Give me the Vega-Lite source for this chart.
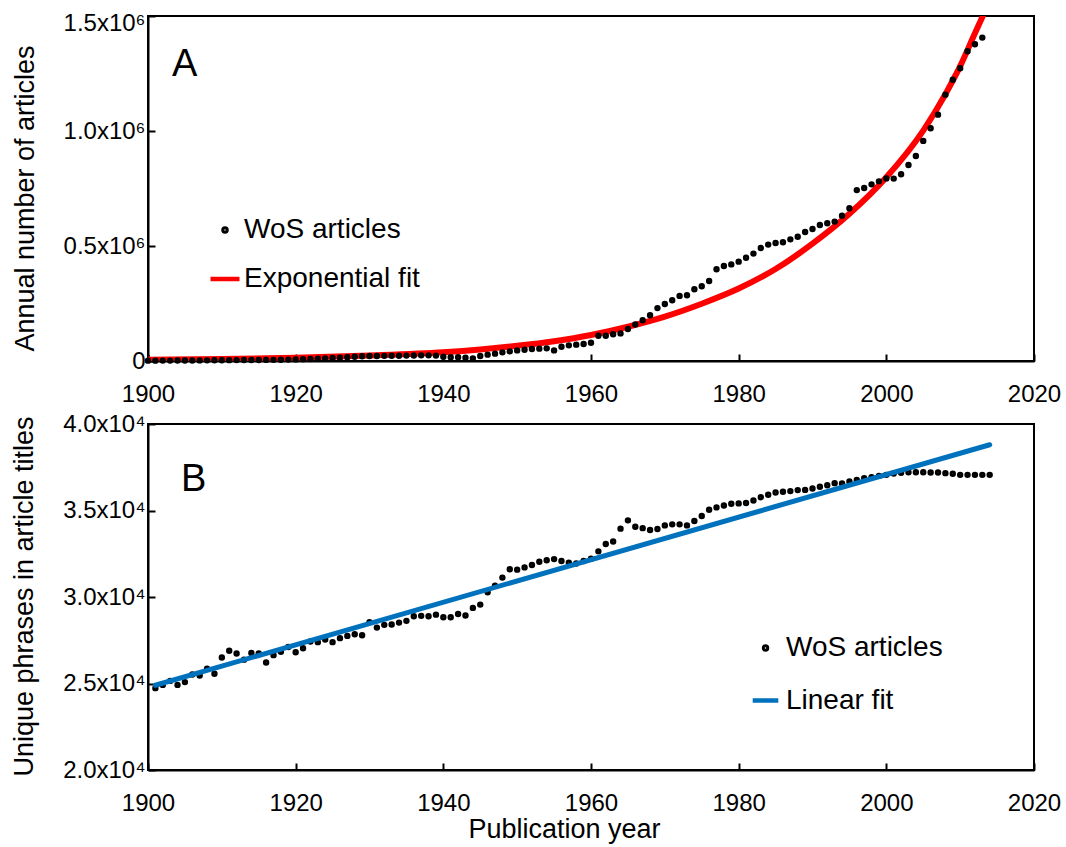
{
  "$schema": "https://vega.github.io/schema/vega-lite/v6.json",
  "autosize": {"type": "none"},
  "padding": {"left": 148, "top": 16, "right": 32, "bottom": 831},
  "background": "white",
  "spacing": 63,
  "bounds": "flush",
  "resolve": {"scale": {"color": "independent", "shape": "independent", "size": "independent"}, "legend": {"color": "independent", "shape": "independent", "size": "independent"}},
  "datasets": {
    "a": [
      {"year":1900,"value":1500,"series":"WoS articles"},{"year":1901,"value":1600,"series":"WoS articles"},{"year":1902,"value":1700,"series":"WoS articles"},{"year":1903,"value":1800,"series":"WoS articles"},{"year":1904,"value":2000,"series":"WoS articles"},{"year":1905,"value":2200,"series":"WoS articles"},{"year":1906,"value":2400,"series":"WoS articles"},{"year":1907,"value":2600,"series":"WoS articles"},{"year":1908,"value":2800,"series":"WoS articles"},{"year":1909,"value":3000,"series":"WoS articles"},
      {"year":1910,"value":3300,"series":"WoS articles"},{"year":1911,"value":3600,"series":"WoS articles"},{"year":1912,"value":3900,"series":"WoS articles"},{"year":1913,"value":4200,"series":"WoS articles"},{"year":1914,"value":4400,"series":"WoS articles"},{"year":1915,"value":4500,"series":"WoS articles"},{"year":1916,"value":4700,"series":"WoS articles"},{"year":1917,"value":4900,"series":"WoS articles"},{"year":1918,"value":5300,"series":"WoS articles"},{"year":1919,"value":6000,"series":"WoS articles"},
      {"year":1920,"value":7000,"series":"WoS articles"},{"year":1921,"value":8000,"series":"WoS articles"},{"year":1922,"value":9000,"series":"WoS articles"},{"year":1923,"value":10000,"series":"WoS articles"},{"year":1924,"value":11500,"series":"WoS articles"},{"year":1925,"value":13000,"series":"WoS articles"},{"year":1926,"value":14500,"series":"WoS articles"},{"year":1927,"value":16500,"series":"WoS articles"},{"year":1928,"value":18500,"series":"WoS articles"},{"year":1929,"value":20500,"series":"WoS articles"},
      {"year":1930,"value":22000,"series":"WoS articles"},{"year":1931,"value":22000,"series":"WoS articles"},{"year":1932,"value":22500,"series":"WoS articles"},{"year":1933,"value":23000,"series":"WoS articles"},{"year":1934,"value":23000,"series":"WoS articles"},{"year":1935,"value":23500,"series":"WoS articles"},{"year":1936,"value":24000,"series":"WoS articles"},{"year":1937,"value":24500,"series":"WoS articles"},{"year":1938,"value":24500,"series":"WoS articles"},{"year":1939,"value":23500,"series":"WoS articles"},
      {"year":1940,"value":19000,"series":"WoS articles"},{"year":1941,"value":16500,"series":"WoS articles"},{"year":1942,"value":16000,"series":"WoS articles"},{"year":1943,"value":14500,"series":"WoS articles"},{"year":1944,"value":11600,"series":"WoS articles"},{"year":1945,"value":21700,"series":"WoS articles"},{"year":1946,"value":27500,"series":"WoS articles"},{"year":1947,"value":31900,"series":"WoS articles"},{"year":1948,"value":37700,"series":"WoS articles"},{"year":1949,"value":42000,"series":"WoS articles"},
      {"year":1950,"value":46000,"series":"WoS articles"},{"year":1951,"value":49000,"series":"WoS articles"},{"year":1952,"value":52000,"series":"WoS articles"},{"year":1953,"value":53600,"series":"WoS articles"},{"year":1954,"value":55000,"series":"WoS articles"},{"year":1955,"value":46000,"series":"WoS articles"},{"year":1956,"value":62000,"series":"WoS articles"},{"year":1957,"value":68000,"series":"WoS articles"},{"year":1958,"value":71000,"series":"WoS articles"},{"year":1959,"value":74000,"series":"WoS articles"},
      {"year":1960,"value":79600,"series":"WoS articles"},{"year":1961,"value":110000,"series":"WoS articles"},{"year":1962,"value":110000,"series":"WoS articles"},{"year":1963,"value":116000,"series":"WoS articles"},{"year":1964,"value":120000,"series":"WoS articles"},{"year":1965,"value":139000,"series":"WoS articles"},{"year":1966,"value":159000,"series":"WoS articles"},{"year":1967,"value":177000,"series":"WoS articles"},{"year":1968,"value":199000,"series":"WoS articles"},{"year":1969,"value":230000,"series":"WoS articles"},
      {"year":1970,"value":248000,"series":"WoS articles"},{"year":1971,"value":264000,"series":"WoS articles"},{"year":1972,"value":283000,"series":"WoS articles"},{"year":1973,"value":286000,"series":"WoS articles"},{"year":1974,"value":312000,"series":"WoS articles"},{"year":1975,"value":325000,"series":"WoS articles"},{"year":1976,"value":348000,"series":"WoS articles"},{"year":1977,"value":399000,"series":"WoS articles"},{"year":1978,"value":413000,"series":"WoS articles"},{"year":1979,"value":420000,"series":"WoS articles"},
      {"year":1980,"value":432000,"series":"WoS articles"},{"year":1981,"value":449000,"series":"WoS articles"},{"year":1982,"value":467000,"series":"WoS articles"},{"year":1983,"value":491000,"series":"WoS articles"},{"year":1984,"value":506000,"series":"WoS articles"},{"year":1985,"value":513000,"series":"WoS articles"},{"year":1986,"value":516000,"series":"WoS articles"},{"year":1987,"value":529000,"series":"WoS articles"},{"year":1988,"value":540000,"series":"WoS articles"},{"year":1989,"value":561000,"series":"WoS articles"},
      {"year":1990,"value":574000,"series":"WoS articles"},{"year":1991,"value":591000,"series":"WoS articles"},{"year":1992,"value":599000,"series":"WoS articles"},{"year":1993,"value":606000,"series":"WoS articles"},{"year":1994,"value":632000,"series":"WoS articles"},{"year":1995,"value":664000,"series":"WoS articles"},{"year":1996,"value":743000,"series":"WoS articles"},{"year":1997,"value":752000,"series":"WoS articles"},{"year":1998,"value":768000,"series":"WoS articles"},{"year":1999,"value":781000,"series":"WoS articles"},
      {"year":2000,"value":794000,"series":"WoS articles"},{"year":2001,"value":793000,"series":"WoS articles"},{"year":2002,"value":812000,"series":"WoS articles"},{"year":2003,"value":852000,"series":"WoS articles"},{"year":2004,"value":891000,"series":"WoS articles"},{"year":2005,"value":957000,"series":"WoS articles"},{"year":2006,"value":1012000,"series":"WoS articles"},{"year":2007,"value":1071000,"series":"WoS articles"},{"year":2008,"value":1158000,"series":"WoS articles"},{"year":2009,"value":1223000,"series":"WoS articles"},
      {"year":2010,"value":1273000,"series":"WoS articles"},{"year":2011,"value":1347000,"series":"WoS articles"},{"year":2012,"value":1377000,"series":"WoS articles"},{"year":2013,"value":1406000,"series":"WoS articles"},
      {"year":1900,"value":5000,"series":"Exponential fit"},{"year":1910,"value":8500,"series":"Exponential fit"},{"year":1920,"value":14500,"series":"Exponential fit"},{"year":1930,"value":24000,"series":"Exponential fit"},{"year":1940,"value":38000,"series":"Exponential fit"},{"year":1945,"value":50000,"series":"Exponential fit"},{"year":1950,"value":66000,"series":"Exponential fit"},{"year":1955,"value":86000,"series":"Exponential fit"},{"year":1960,"value":113000,"series":"Exponential fit"},{"year":1965,"value":149000,"series":"Exponential fit"},{"year":1970,"value":193000,"series":"Exponential fit"},{"year":1975,"value":249000,"series":"Exponential fit"},{"year":1980,"value":315000,"series":"Exponential fit"},{"year":1985,"value":400000,"series":"Exponential fit"},{"year":1990,"value":510000,"series":"Exponential fit"},{"year":1995,"value":640000,"series":"Exponential fit"},{"year":2000,"value":799000,"series":"Exponential fit"},{"year":2005,"value":1002000,"series":"Exponential fit"},{"year":2008,"value":1160000,"series":"Exponential fit"},{"year":2010,"value":1282000,"series":"Exponential fit"},{"year":2012,"value":1425000,"series":"Exponential fit"},{"year":2013,"value":1495000,"series":"Exponential fit"},{"year":2014,"value":1570000,"series":"Exponential fit"}
    ],
    "b": [
      {"year":1901,"value":24730,"series":"WoS articles"},{"year":1902,"value":24920,"series":"WoS articles"},{"year":1903,"value":25150,"series":"WoS articles"},{"year":1904,"value":24920,"series":"WoS articles"},{"year":1905,"value":25080,"series":"WoS articles"},{"year":1906,"value":25520,"series":"WoS articles"},{"year":1907,"value":25460,"series":"WoS articles"},{"year":1908,"value":25850,"series":"WoS articles"},{"year":1909,"value":25560,"series":"WoS articles"},
      {"year":1910,"value":26500,"series":"WoS articles"},{"year":1911,"value":26890,"series":"WoS articles"},{"year":1912,"value":26730,"series":"WoS articles"},{"year":1913,"value":26380,"series":"WoS articles"},{"year":1914,"value":26770,"series":"WoS articles"},{"year":1915,"value":26730,"series":"WoS articles"},{"year":1916,"value":26210,"series":"WoS articles"},{"year":1917,"value":26640,"series":"WoS articles"},{"year":1918,"value":26830,"series":"WoS articles"},{"year":1919,"value":27110,"series":"WoS articles"},
      {"year":1920,"value":26810,"series":"WoS articles"},{"year":1921,"value":27040,"series":"WoS articles"},{"year":1922,"value":27430,"series":"WoS articles"},{"year":1923,"value":27390,"series":"WoS articles"},{"year":1924,"value":27540,"series":"WoS articles"},{"year":1925,"value":27390,"series":"WoS articles"},{"year":1926,"value":27620,"series":"WoS articles"},{"year":1927,"value":27750,"series":"WoS articles"},{"year":1928,"value":27850,"series":"WoS articles"},{"year":1929,"value":27790,"series":"WoS articles"},
      {"year":1930,"value":28540,"series":"WoS articles"},{"year":1931,"value":28230,"series":"WoS articles"},{"year":1932,"value":28390,"series":"WoS articles"},{"year":1933,"value":28410,"series":"WoS articles"},{"year":1934,"value":28520,"series":"WoS articles"},{"year":1935,"value":28620,"series":"WoS articles"},{"year":1936,"value":28890,"series":"WoS articles"},{"year":1937,"value":28910,"series":"WoS articles"},{"year":1938,"value":28890,"series":"WoS articles"},{"year":1939,"value":28980,"series":"WoS articles"},
      {"year":1940,"value":28830,"series":"WoS articles"},{"year":1941,"value":28830,"series":"WoS articles"},{"year":1942,"value":29020,"series":"WoS articles"},{"year":1943,"value":28930,"series":"WoS articles"},{"year":1944,"value":29370,"series":"WoS articles"},{"year":1945,"value":29560,"series":"WoS articles"},{"year":1946,"value":30270,"series":"WoS articles"},{"year":1947,"value":30660,"series":"WoS articles"},{"year":1948,"value":31120,"series":"WoS articles"},{"year":1949,"value":31600,"series":"WoS articles"},
      {"year":1950,"value":31580,"series":"WoS articles"},{"year":1951,"value":31710,"series":"WoS articles"},{"year":1952,"value":31850,"series":"WoS articles"},{"year":1953,"value":32040,"series":"WoS articles"},{"year":1954,"value":32120,"series":"WoS articles"},{"year":1955,"value":32190,"series":"WoS articles"},{"year":1956,"value":32080,"series":"WoS articles"},{"year":1957,"value":31980,"series":"WoS articles"},{"year":1958,"value":31940,"series":"WoS articles"},{"year":1959,"value":32080,"series":"WoS articles"},
      {"year":1960,"value":32215,"series":"WoS articles"},{"year":1961,"value":32640,"series":"WoS articles"},{"year":1962,"value":33060,"series":"WoS articles"},{"year":1963,"value":33210,"series":"WoS articles"},{"year":1964,"value":33950,"series":"WoS articles"},{"year":1965,"value":34430,"series":"WoS articles"},{"year":1966,"value":34060,"series":"WoS articles"},{"year":1967,"value":33980,"series":"WoS articles"},{"year":1968,"value":33870,"series":"WoS articles"},{"year":1969,"value":33930,"series":"WoS articles"},
      {"year":1970,"value":34140,"series":"WoS articles"},{"year":1971,"value":34200,"series":"WoS articles"},{"year":1972,"value":34200,"series":"WoS articles"},{"year":1973,"value":34140,"series":"WoS articles"},{"year":1974,"value":34390,"series":"WoS articles"},{"year":1975,"value":34680,"series":"WoS articles"},{"year":1976,"value":35040,"series":"WoS articles"},{"year":1977,"value":35180,"series":"WoS articles"},{"year":1978,"value":35290,"series":"WoS articles"},{"year":1979,"value":35390,"series":"WoS articles"},
      {"year":1980,"value":35410,"series":"WoS articles"},{"year":1981,"value":35430,"series":"WoS articles"},{"year":1982,"value":35580,"series":"WoS articles"},{"year":1983,"value":35770,"series":"WoS articles"},{"year":1984,"value":35910,"series":"WoS articles"},{"year":1985,"value":36040,"series":"WoS articles"},{"year":1986,"value":36080,"series":"WoS articles"},{"year":1987,"value":36120,"series":"WoS articles"},{"year":1988,"value":36180,"series":"WoS articles"},{"year":1989,"value":36190,"series":"WoS articles"},
      {"year":1990,"value":36270,"series":"WoS articles"},{"year":1991,"value":36370,"series":"WoS articles"},{"year":1992,"value":36460,"series":"WoS articles"},{"year":1993,"value":36580,"series":"WoS articles"},{"year":1994,"value":36560,"series":"WoS articles"},{"year":1995,"value":36680,"series":"WoS articles"},{"year":1996,"value":36770,"series":"WoS articles"},{"year":1997,"value":36870,"series":"WoS articles"},{"year":1998,"value":36930,"series":"WoS articles"},{"year":1999,"value":37000,"series":"WoS articles"},
      {"year":2000,"value":37060,"series":"WoS articles"},{"year":2001,"value":37140,"series":"WoS articles"},{"year":2002,"value":37180,"series":"WoS articles"},{"year":2003,"value":37210,"series":"WoS articles"},{"year":2004,"value":37210,"series":"WoS articles"},{"year":2005,"value":37210,"series":"WoS articles"},{"year":2006,"value":37200,"series":"WoS articles"},{"year":2007,"value":37200,"series":"WoS articles"},{"year":2008,"value":37160,"series":"WoS articles"},{"year":2009,"value":37120,"series":"WoS articles"},
      {"year":2010,"value":37060,"series":"WoS articles"},{"year":2011,"value":37060,"series":"WoS articles"},{"year":2012,"value":37060,"series":"WoS articles"},{"year":2013,"value":37060,"series":"WoS articles"},{"year":2014,"value":37060,"series":"WoS articles"},
      {"year":1901,"value":24900,"series":"Linear fit"},{"year":2014,"value":38800,"series":"Linear fit"}
    ]
  },
  "vconcat": [
    {
      "width": 886,
      "height": 345,
      "data": {"name": "a"},
      "encoding": {
        "x": {"field": "year", "type": "quantitative", "scale": {"domain": [1900, 2020], "nice": false, "zero": false},
              "axis": {"values": [1900, 1920, 1940, 1960, 1980, 2000, 2020], "format": "d", "title": null, "labelPadding": 28, "labelFlush": false}},
        "y": {"field": "value", "type": "quantitative", "scale": {"domain": [0, 1500000], "nice": false},
              "axis": {"values": [0, 500000, 1000000, 1500000],
                       "labelExpr": "datum.value == 0 ? '0' : format(datum.value / 1000000, '.1f') + 'x10⁶'",
                       "labelPadding": 10,
                       "labelOffset": {"condition": {"test": "datum.value == 1500000", "value": 7}, "value": 0},
                       "title": "Annual number of articles", "titleAngle": 270, "titleX": -115, "titleY": 182, "titleBaseline": "alphabetic", "titleAlign": "center"}}
      },
      "layer": [
        {
          "transform": [{"filter": "datum.series == 'Exponential fit'"}],
          "mark": {"type": "line", "strokeWidth": 6, "strokeCap": "round", "clip": true, "interpolate": "monotone"},
          "encoding": {
            "color": {"field": "series", "type": "nominal", "scale": {"domain": ["WoS articles", "Exponential fit"], "range": ["#000000", "#ff0000"]}}
          }
        },
        {
          "transform": [{"filter": "datum.series == 'WoS articles'"}],
          "mark": {"type": "point", "filled": false, "opacity": 1, "strokeWidth": 3.4},
          "encoding": {
            "color": {"field": "series", "type": "nominal", "scale": {"domain": ["WoS articles", "Exponential fit"], "range": ["#000000", "#ff0000"]},
              "legend": {"title": null, "orient": "none", "legendX": 60, "legendY": 200, "padding": 0, "labelFontSize": 28, "labelFont": "Liberation Sans", "labelColor": "black", "labelLimit": 0, "labelOffset": 2, "rowPadding": 18, "symbolStrokeWidth": 4.5}},
            "shape": {"field": "series", "type": "nominal", "scale": {"domain": ["WoS articles", "Exponential fit"], "range": ["circle", "stroke"]},
              "legend": {"title": null, "orient": "none", "legendX": 60, "legendY": 200, "padding": 0, "labelFontSize": 28, "labelFont": "Liberation Sans", "labelColor": "black", "labelLimit": 0, "labelOffset": 2, "rowPadding": 18, "symbolStrokeWidth": 4.5}},
            "size": {"field": "series", "type": "nominal", "scale": {"type": "point", "padding": 0, "domain": ["WoS articles", "Exponential fit"], "range": [9, 841]},
              "legend": {"title": null, "orient": "none", "legendX": 60, "legendY": 200, "padding": 0, "labelFontSize": 28, "labelFont": "Liberation Sans", "labelColor": "black", "labelLimit": 0, "labelOffset": 2, "rowPadding": 18, "symbolStrokeWidth": 4.5}}
          }
        },
        {
          "transform": [{"filter": "datum.year == 1900 && datum.series == 'WoS articles'"}],
          "mark": {"type": "text", "text": "A", "fontSize": 38, "font": "Liberation Sans", "color": "black", "align": "left", "baseline": "alphabetic"},
          "encoding": {"x": {"datum": 1903.25}, "y": {"datum": 1239000}}
        }
      ]
    },
    {
      "width": 886,
      "height": 346,
      "data": {"name": "b"},
      "encoding": {
        "x": {"field": "year", "type": "quantitative", "scale": {"domain": [1900, 2020], "nice": false, "zero": false},
              "axis": {"values": [1900, 1920, 1940, 1960, 1980, 2000, 2020], "format": "d", "title": "Publication year", "labelPadding": 28, "labelFlush": false, "titleX": 416, "titleY": 67, "titleBaseline": "alphabetic", "titleAlign": "center"}},
        "y": {"field": "value", "type": "quantitative", "scale": {"domain": [20000, 40000], "nice": false, "zero": false},
              "axis": {"values": [20000, 25000, 30000, 35000, 40000],
                       "labelExpr": "format(datum.value / 10000, '.1f') + 'x10⁴'",
                       "labelPadding": 10,
                       "title": "Unique phrases in article titles", "titleAngle": 270, "titleX": -116, "titleY": 172, "titleBaseline": "alphabetic", "titleAlign": "center"}}
      },
      "layer": [
        {
          "transform": [{"filter": "datum.series == 'WoS articles'"}],
          "mark": {"type": "point", "filled": false, "opacity": 1, "strokeWidth": 3.4},
          "encoding": {
            "color": {"field": "series", "type": "nominal", "scale": {"domain": ["WoS articles", "Linear fit"], "range": ["#000000", "#0072bd"]},
              "legend": {"title": null, "orient": "none", "legendX": 602, "legendY": 210, "padding": 0, "labelFontSize": 28, "labelFont": "Liberation Sans", "labelColor": "black", "labelLimit": 0, "labelOffset": 5, "rowPadding": 23, "symbolStrokeWidth": 4.5}},
            "shape": {"field": "series", "type": "nominal", "scale": {"domain": ["WoS articles", "Linear fit"], "range": ["circle", "stroke"]},
              "legend": {"title": null, "orient": "none", "legendX": 602, "legendY": 210, "padding": 0, "labelFontSize": 28, "labelFont": "Liberation Sans", "labelColor": "black", "labelLimit": 0, "labelOffset": 5, "rowPadding": 23, "symbolStrokeWidth": 4.5}},
            "size": {"field": "series", "type": "nominal", "scale": {"type": "point", "padding": 0, "domain": ["WoS articles", "Linear fit"], "range": [9, 655]},
              "legend": {"title": null, "orient": "none", "legendX": 602, "legendY": 210, "padding": 0, "labelFontSize": 28, "labelFont": "Liberation Sans", "labelColor": "black", "labelLimit": 0, "labelOffset": 5, "rowPadding": 23, "symbolStrokeWidth": 4.5}}
          }
        },
        {
          "transform": [{"filter": "datum.series == 'Linear fit'"}],
          "mark": {"type": "line", "strokeWidth": 5, "strokeCap": "round"},
          "encoding": {
            "color": {"field": "series", "type": "nominal", "scale": {"domain": ["WoS articles", "Linear fit"], "range": ["#000000", "#0072bd"]}}
          }
        },
        {
          "transform": [{"filter": "datum.year == 1901 && datum.series == 'WoS articles'"}],
          "mark": {"type": "text", "text": "B", "fontSize": 38, "font": "Liberation Sans", "color": "black", "align": "left", "baseline": "alphabetic"},
          "encoding": {"x": {"datum": 1904.47}, "y": {"datum": 36126}}
        }
      ]
    }
  ],
  "config": {
    "font": "Liberation Sans",
    "view": {"stroke": "black", "strokeWidth": 2},
    "axis": {"grid": false, "domainColor": "black", "domainWidth": 2, "tickColor": "black", "tickWidth": 2, "tickSize": -7,
             "labelFont": "Liberation Sans", "labelFontSize": 24, "labelColor": "black",
             "titleFont": "Liberation Sans", "titleFontSize": 27, "titleFontWeight": "normal", "titleColor": "black"}
  }
}
